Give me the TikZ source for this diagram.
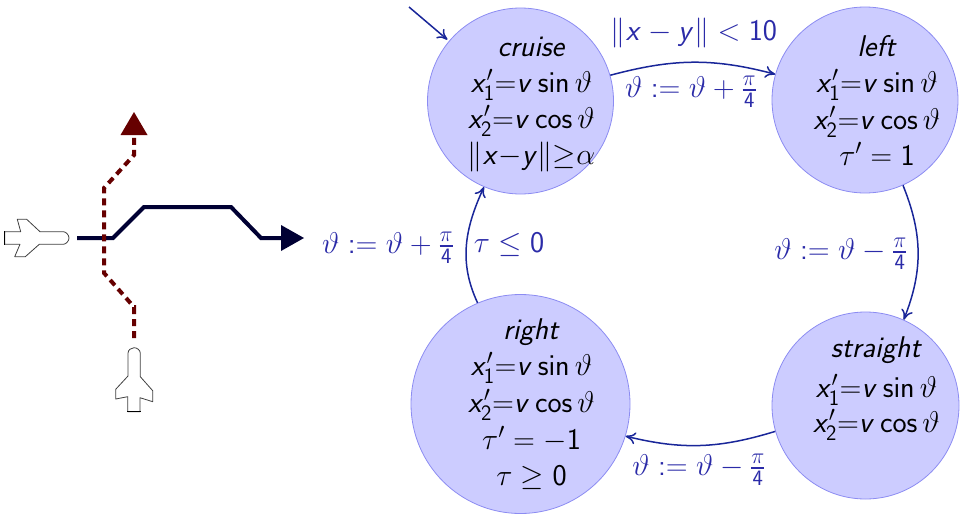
\RequirePackage{fix-cm}
\documentclass[tikz,border=0pt]{standalone}
\usepackage{amsmath,amssymb}
\usetikzlibrary{arrows.meta,bending}
\DeclareSymbolFont{operators}{OT1}{cmss}{m}{n}
\DeclareSymbolFont{sfit}{OT1}{cmss}{m}{sl}
\DeclareMathSymbol{x}{\mathalpha}{sfit}{`x}
\DeclareMathSymbol{y}{\mathalpha}{sfit}{`y}
\DeclareMathSymbol{v}{\mathalpha}{sfit}{`v}
\DeclareMathSizes{30}{30}{22}{16}
\definecolor{st}{rgb}{0.17,0.17,0.66}
\definecolor{edgeb}{rgb}{0.10,0.15,0.60}
\definecolor{fillb}{rgb}{0.80,0.80,1}
\definecolor{drawb}{rgb}{0.55,0.55,0.95}
\definecolor{navyl}{rgb}{0,0,0.2}
\definecolor{redl}{rgb}{0.4,0,0}
\newcommand{\bigtext}{\fontsize{30}{37}\selectfont\sffamily}
\tikzset{
 state/.style={circle,draw=drawb,fill=fillb,line width=0.8pt,inner sep=0pt},
 statetext/.style={inner sep=0pt,align=center,font=\bigtext,text=black},
 trans/.style={edgeb,line width=1.5pt,-{To[length=10pt,width=12pt,bend]}},
 lab/.style={text=st,font=\fontsize{30}{34}\selectfont\sffamily,inner sep=0pt},
 plane/.style={draw=black!75,line width=0.8pt,fill=white,line join=round},
 tailbar/.style={black,line width=1.3pt},
 blueway/.style={navyl,line width=4pt,line join=miter},
 redway/.style={redl,line width=4pt,dash pattern=on 7pt off 5pt},
}
\newcommand{\eqa}{x_1'{=}v\sin\vartheta}
\newcommand{\eqb}{x_2'{=}v\cos\vartheta}
\begin{document}
\begin{tikzpicture}[x=1pt,y=-1pt]
\useasboundingbox (0,0) rectangle (961,514);
\node[state,minimum size=186pt] (cruise) at (520.5,101) {};
\node[state,minimum size=186pt] (left) at (865,100) {};
\node[state,minimum size=187pt] (straight) at (865.5,405.5) {};
\node[state,minimum size=219pt] (right) at (520.5,404) {};
\node[statetext] (cruiseT) at ([xshift=11pt,yshift=-3.5pt]cruise.center) {\textit{cruise}\\[-1pt]$\eqa$\\[-1pt]$\eqb$\\[-1pt]$\|x{-}y\|{\geq}\alpha$};
\node[statetext] (leftT) at ([xshift=12pt]left.center) {\textit{left}\\[-1pt]$\eqa$\\[0pt]$\eqb$\\[-1pt]$\tau'=1$};
\node[statetext] (straightT) at ([xshift=11pt,yshift=3.5pt]straight.center) {\textit{straight}\\[3pt]$\eqa$\\[-2pt]$\eqb$\\[-2pt]\mbox{}};
\node[statetext] (rightT) at ([xshift=11pt]right.center) {\textit{right}\\[-1pt]$\eqa$\\[0pt]$\eqb$\\[0pt]$\tau'=-1$\\[-1pt]$\tau\geq 0$};
\coordinate (init) at (409,7);
\draw[trans,shorten >=2pt] (init) -- (cruise.140);
\draw[trans] (cruise.16) to[out=15,in=165] (left.164);
\draw[trans] (left.-66) to[out=-68,in=68] (straight.66);
\draw[trans] (straight.196) to[out=197,in=-14] (right.-17.5);
\draw[trans] (right.113.5) to[out=115,in=-115] (cruise.-113.5);
\node[lab] (l1) at (694,33) {$\|x-y\|<10$};
\node[lab] (l2) at (691,92) {$\vartheta:=\vartheta+\frac{\pi}{4}$};
\node[lab] (l3) at (841,254) {$\vartheta:=\vartheta-\frac{\pi}{4}$};
\node[lab] (l4) at (388,248) {$\vartheta:=\vartheta+\frac{\pi}{4}$};
\node[lab] (l5) at (509,245) {$\tau\leq 0$};
\node[lab] (l6) at (699,470) {$\vartheta:=\vartheta-\frac{\pi}{4}$};
% planes
\draw[plane] (4.7,231.7) -- (4.7,244.3) -- (20,244.3) -- (14.7,256.7) -- (25.3,256.7) -- (39.3,244.3) -- (63.3,244.3) .. controls (66,244.3) and (69,241) .. (69,238) .. controls (69,235) and (66,231.7) .. (63.3,231.7) -- (40,231.7) -- (26.7,219.3) -- (17.3,219.3) -- (20.7,231.7) -- cycle;
\draw[tailbar] (4.7,231) -- (4.7,245);
\draw[plane] (127.7,411.7) -- (140,411.7) -- (140,397.7) -- (152.7,401.7) -- (152.7,390.7) -- (140.3,376.7) -- (140.3,353.3) .. controls (140.3,350) and (137,347.7) .. (134,347.7) .. controls (131,347.7) and (128,350) .. (128,353.3) -- (128,376) -- (115.7,389.3) -- (115.7,399) -- (127.7,396.7) -- cycle;
\draw[tailbar] (127,411.7) -- (140.5,411.7);
% trajectories
\draw[blueway] (77,238) -- (113,238) -- (144,207) -- (231,207) -- (261,238) -- (285,238);
\fill[navyl] (281,225) -- (304,238) -- (281,251) -- cycle;
\draw[redway] (134,338) -- (134,307) -- (104,273) -- (104,188) -- (134,155) -- (134,135);
\fill[redl] (120.5,135) -- (134,112) -- (147.5,135) -- cycle;
\end{tikzpicture}
\end{document}
